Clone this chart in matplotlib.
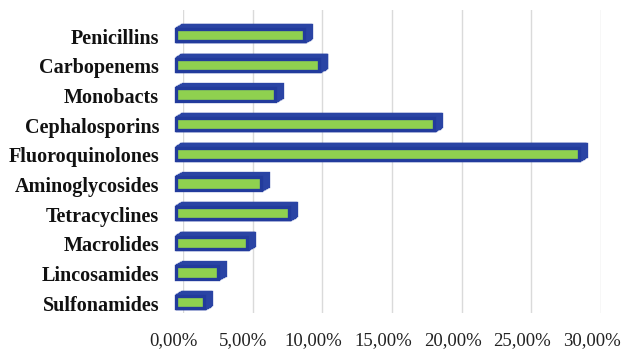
import numpy as np
import matplotlib
matplotlib.use("Agg")
import matplotlib.pyplot as plt
from matplotlib.transforms import ScaledTranslation
from matplotlib.ticker import FuncFormatter

categories = ["Penicillins", "Carbopenems", "Monobacts", "Cephalosporins",
              "Fluoroquinolones", "Aminoglycosides", "Tetracyclines",
              "Macrolides", "Lincosamides", "Sulfonamides"]
values = [9.2, 10.3, 7.1, 18.5, 28.9, 6.1, 8.1, 5.1, 3.0, 2.0]
xticks = [0, 5, 10, 15, 20, 25, 30]

plt.rcParams['font.family'] = ['Liberation Serif', 'DejaVu Serif']

fig = plt.figure(figsize=(6.22, 3.51), dpi=100)
ax = fig.add_axes([0.294, 0.108, 0.672, 0.863])

ypos = np.arange(len(categories))[::-1]
bar_h = 0.42
blue = "#2a44a4"
edge = "#223b9c"
green = "#8fd14f"

# 3d look: extrude the bar from the back face to the front face
dx, dy = -7, -4  # pixels
steps = 10
for k in range(steps + 1):
    f = k / steps
    tr = ax.transData + ScaledTranslation(dx * f / 100, dy * f / 100, fig.dpi_scale_trans)
    if k < steps:
        ax.barh(ypos, values, height=bar_h, color=blue, edgecolor=blue,
                linewidth=2.4, transform=tr, zorder=3, clip_on=False)
    else:
        ax.barh(ypos, values, height=bar_h, color=green, edgecolor=edge,
                linewidth=2.4, transform=tr, zorder=4, clip_on=False)

ax.set_xlim(0, 30)
ax.set_ylim(-0.506, 9.708)
ax.set_xticks(xticks)
ax.xaxis.set_major_formatter(FuncFormatter(lambda v, p: f"{v:.2f}%".replace(".", ",")))
ax.set_yticks(ypos)
ax.set_yticklabels(categories, fontweight="bold", fontsize=14.5)
ax.tick_params(axis="x", labelsize=13.5, length=0, pad=14)
ax.tick_params(axis="y", length=0, pad=17)
for lab in ax.get_xticklabels():
    lab.set_color("#222222")
    lab.set_transform(lab.get_transform() + ScaledTranslation(-0.09, 0, fig.dpi_scale_trans))
for lab in ax.get_yticklabels():
    lab.set_color("#111111")
    lab.set_transform(lab.get_transform() + ScaledTranslation(0, -0.05, fig.dpi_scale_trans))
ax.grid(axis="x", color="#dadada", linewidth=1)
ax.set_axisbelow(True)
for s in ax.spines.values():
    s.set_visible(False)

plt.savefig("out.png", dpi=100)
